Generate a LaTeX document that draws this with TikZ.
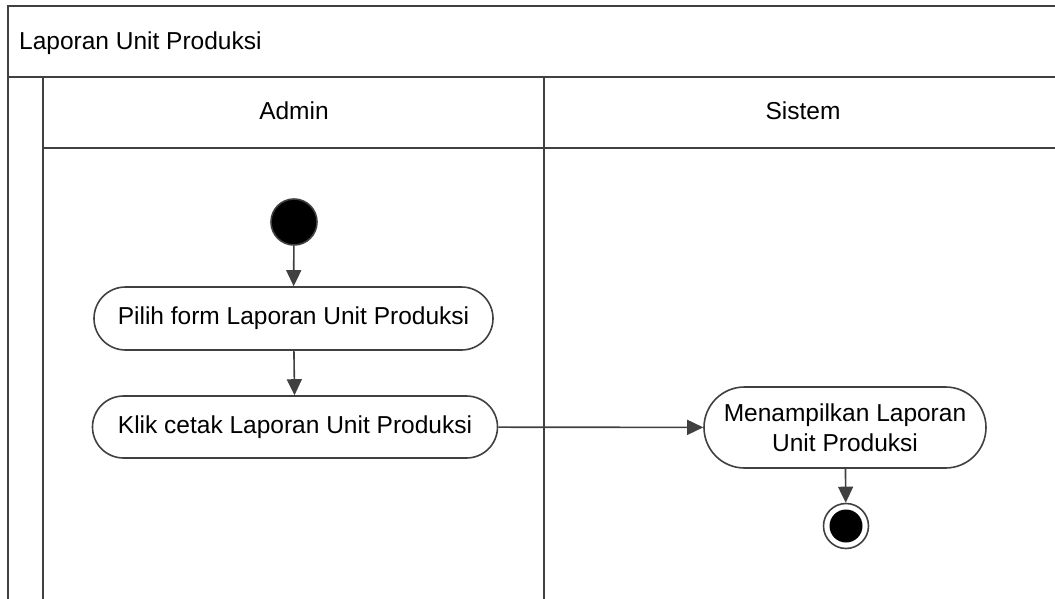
\documentclass[tikz,border=0pt]{standalone}
\usepackage{fontspec}
\setmainfont{Liberation Sans}
\usetikzlibrary{arrows.meta,shapes.misc}
\definecolor{lc}{RGB}{64,64,64}
\begin{document}
\begin{tikzpicture}[x=1pt,y=-1pt,
  font=\fontsize{24.5}{30}\selectfont,
  lane/.style={draw=lc,line width=2pt},
  act/.style={rounded rectangle,draw=lc,line width=1.6pt,fill=white,inner sep=0pt,align=center},
  flow/.style={draw=lc,line width=1.6pt,-{Triangle[length=16pt,width=15pt]}},
  lbl/.style={inner sep=0pt,text=black}]
\useasboundingbox (0,0) rectangle (1055,599);
\begin{scope}
\clip (0,0) rectangle (1055,599);
% pool frame
\draw[lane] (8,620) -- (8,6) -- (1080,6);
\draw[lane] (8,77) -- (1080,77);
\draw[lane] (43,77) -- (43,620);
\draw[lane] (43,148) -- (1080,148);
\draw[lane] (544,77) -- (544,620);
\end{scope}
\node[lbl,anchor=base west] (title) at (19,50) {Laporan Unit Produksi};
\node[lbl,anchor=base] (admin) at (294,120) {Admin};
\node[lbl,anchor=base] (sistem) at (803,120) {Sistem};
% activity nodes
\node[circle,draw=lc,line width=1.6pt,fill=black,minimum size=46pt,inner sep=0pt] (start) at (294,222) {};
\node[act,minimum width=399pt,minimum height=63pt] (a1) at (293.5,318.5) {Pilih form Laporan Unit Produksi};
\node[act,minimum width=405pt,minimum height=62pt] (a2) at (295,427) {Klik cetak Laporan Unit Produksi};
\node[act,minimum width=282pt,minimum height=81pt] (a3) at (845,427.5) {Menampilkan Laporan\\Unit Produksi};
\node[circle,draw=lc,line width=1.6pt,fill=white,minimum size=45pt,inner sep=0pt] (end) at (846,526) {};
\fill[black] (end.center) circle (16.5pt);
% flows
\draw[flow] (start) -- (a1);
\draw[flow] (a1) -- (a2);
\draw[flow] (a2) -- (a3);
\draw[flow] (a3) -- (end);
\end{tikzpicture}
\end{document}
